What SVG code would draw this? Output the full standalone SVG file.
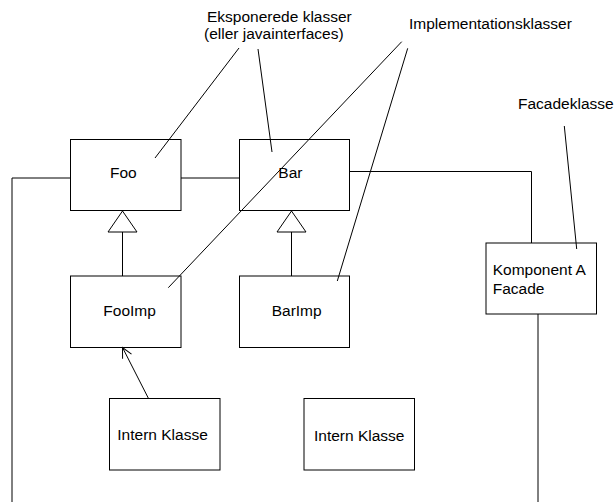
<svg xmlns="http://www.w3.org/2000/svg" width="615" height="502" viewBox="0 0 615 502">
  <style>
    .box { fill: #ffffff; stroke: #000000; stroke-width: 1; }
    .line { fill: none; stroke: #000000; stroke-width: 1; }
    .lbl { font-family: "Liberation Sans", Arial, sans-serif; font-size: 15.5px; fill: #000000; }
  </style>
  <defs>
    <marker id="open-arrow" viewBox="0 0 12 12" refX="11" refY="6" markerWidth="12" markerHeight="12" markerUnits="userSpaceOnUse" orient="auto">
      <path d="M1,1 L11,6 L1,11" fill="none" stroke="#000000" stroke-width="1"/>
    </marker>
  </defs>

  <rect width="615" height="502" fill="#ffffff"/>

  <!-- connectors -->
  <g id="connectors">
    <!-- boundary lines -->
    <polyline class="line" points="12,502 12,178 70.5,178"/>
    <line class="line" x1="181" y1="178" x2="239.5" y2="178"/>
    <polyline class="line" points="349.5,171.5 531.5,171.5 531.5,243"/>
    <line class="line" x1="538" y1="314" x2="538" y2="502"/>
    <!-- generalisation Foo <- FooImp -->
    <line class="line" x1="122.5" y1="232" x2="122.5" y2="276"/>
    <polygon class="box" points="122.5,211 108,232 137,232"/>
    <!-- generalisation Bar <- BarImp -->
    <line class="line" x1="291.5" y1="232" x2="291.5" y2="276"/>
    <polygon class="box" points="291.5,211 277,232 306,232"/>
    <!-- dependency Intern Klasse -> FooImp -->
    <line class="line" x1="148.5" y1="398.5" x2="122.5" y2="347.5" marker-end="url(#open-arrow)"/>
    <!-- annotation pointers -->
    <line class="line" x1="239" y1="48" x2="155" y2="158"/>
    <line class="line" x1="258" y1="49" x2="272" y2="152"/>
    <line class="line" x1="401.7" y1="41.7" x2="168.3" y2="287.7"/>
    <line class="line" x1="407.7" y1="48.3" x2="337.3" y2="281"/>
    <line class="line" x1="564.3" y1="126" x2="576.7" y2="249"/>
  </g>

  <!-- annotations -->
  <g id="note-exposed">
    <text class="lbl" x="207" y="22">Eksponerede klasser</text>
    <text class="lbl" x="204" y="39">(eller javainterfaces)</text>
  </g>
  <g id="note-impl">
    <text class="lbl" x="409" y="29">Implementationsklasser</text>
  </g>
  <g id="note-facade">
    <text class="lbl" x="518" y="109">Facadeklasse</text>
  </g>

  <!-- nodes -->
  <g id="foo">
    <rect class="box" x="70.5" y="139.5" width="110.5" height="71" fill-opacity="0"/>
    <text class="lbl" x="110" y="178">Foo</text>
  </g>
  <g id="bar">
    <rect class="box" x="239.5" y="139.5" width="110" height="71" fill-opacity="0"/>
    <text class="lbl" x="278.3" y="178">Bar</text>
  </g>
  <g id="fooimp">
    <rect class="box" x="70.5" y="276" width="110.5" height="71.5" fill-opacity="0"/>
    <text class="lbl" x="103.3" y="315.5">FooImp</text>
  </g>
  <g id="barimp">
    <rect class="box" x="239.5" y="276" width="110" height="71.5" fill-opacity="0"/>
    <text class="lbl" x="271.7" y="315.5">BarImp</text>
  </g>
  <g id="komponent-a-facade">
    <rect class="box" x="486" y="243" width="110.5" height="71" fill-opacity="0"/>
    <text class="lbl" x="492.7" y="275">Komponent A</text>
    <text class="lbl" x="492.7" y="294">Facade</text>
  </g>
  <g id="intern-klasse-1">
    <rect class="box" x="109.5" y="398.5" width="110.5" height="71.5"/>
    <text class="lbl" x="117.3" y="440">Intern Klasse</text>
  </g>
  <g id="intern-klasse-2">
    <rect class="box" x="304" y="398.5" width="110.5" height="71.5"/>
    <text class="lbl" x="314" y="441">Intern Klasse</text>
  </g>
</svg>
